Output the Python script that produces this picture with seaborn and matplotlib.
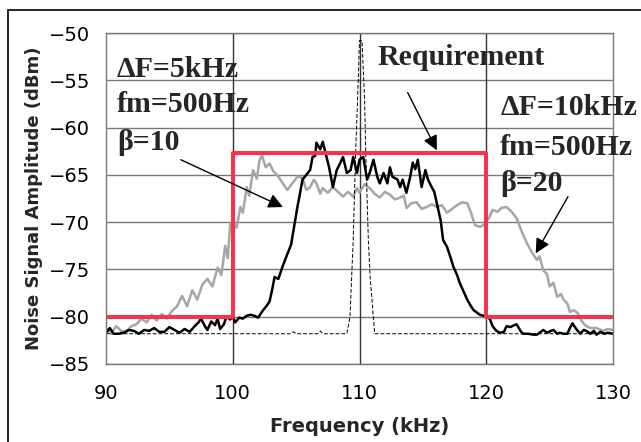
import matplotlib
matplotlib.use("Agg")
import matplotlib.pyplot as plt
import matplotlib.patches as patches
import numpy as np
import seaborn as sns

# ΔF=10kHz, beta=20 (gray trace)
freq_wide = [90.0, 90.4, 90.8, 91.2, 91.6, 92.0, 92.4, 92.8, 93.2, 93.6, 94.0, 94.4, 94.8, 95.2,
             95.6, 96.0, 96.4, 96.8, 97.2, 97.6, 98.0, 98.4, 98.8, 99.1, 99.4, 99.6, 99.8, 100.0,
             100.3, 100.6, 100.8, 101.1, 101.3, 101.6, 101.9, 102.1, 102.3, 102.6, 102.9, 103.2,
             103.6, 104.0, 104.3, 104.7, 105.1, 105.5, 105.8, 106.1, 106.4, 106.6, 106.9, 107.1,
             107.5, 107.9, 108.3, 108.7, 109.1, 109.5, 109.8, 110.0, 110.4, 110.8, 111.2, 111.6,
             112.0, 112.4, 112.8, 113.2, 113.5, 113.7, 114.1, 114.5, 114.9, 115.3, 115.7, 116.1,
             116.5, 116.9, 117.3, 117.7, 118.1, 118.5, 118.8, 119.1, 119.5, 119.8, 120.2, 120.5,
             120.9, 121.2, 121.6, 122.0, 122.4, 122.8, 123.2, 123.6, 124.0, 124.2, 124.5, 124.8,
             125.0, 125.3, 125.6, 125.9, 126.1, 126.4, 126.6, 126.9, 127.2, 127.5, 127.8, 128.2,
             128.7, 129.2, 129.6, 130.0]
amp_wide = [-81.2, -81.8, -81.0, -81.5, -81.6, -81.0, -80.8, -80.2, -80.6, -79.8, -80.4, -79.7, -80.2, -79.4,
            -78.9, -77.8, -78.9, -77.2, -78.2, -76.6, -76.0, -76.8, -74.8, -75.6, -72.5, -73.8, -70.2, -69.8,
            -70.6, -68.4, -69.0, -66.3, -67.2, -64.5, -65.4, -63.5, -62.9, -64.2, -63.8, -64.6,
            -65.2, -66.0, -66.6, -65.9, -65.2, -65.3, -66.6, -66.3, -65.5, -65.9, -67.0, -66.4,
            -66.9, -66.3, -66.8, -67.3, -66.8, -67.3, -66.4, -66.9, -66.0, -66.4, -67.0, -67.4,
            -66.8, -67.1, -67.6, -67.4, -67.2, -68.5, -68.0, -67.9, -68.6, -68.4, -68.1, -68.4,
            -68.2, -69.0, -68.6, -68.2, -67.9, -68.0, -69.0, -70.3, -70.5, -70.3, -69.6, -68.7,
            -68.9, -68.5, -68.4, -68.9, -69.6, -71.0, -72.2, -73.2, -74.0, -73.6, -75.1, -75.5,
            -76.8, -76.4, -77.9, -77.6, -78.2, -78.6, -79.5, -79.3, -79.6, -80.4, -80.9, -81.2,
            -81.2, -81.5, -81.3, -81.4]

# ΔF=5kHz, beta=10 (black trace)
freq_narrow = [90.0, 90.3, 90.6, 91.0, 91.4, 91.8, 92.2, 92.6, 93.0, 93.4, 93.8, 94.2, 94.6, 95.0,
               95.4, 95.8, 96.2, 96.6, 97.0, 97.3, 97.5, 97.8, 98.0, 98.3, 98.6, 98.8, 99.0, 99.3,
               99.5, 99.8, 100.0, 100.2, 100.5, 100.8, 101.1, 101.4, 101.7, 102.0, 102.4, 102.7,
               102.9, 103.1, 103.3, 103.6, 103.9, 104.3, 104.6, 104.9, 105.1, 105.3, 105.5, 105.8,
               106.1, 106.3, 106.5, 106.6, 106.9, 107.1, 107.4, 107.6, 107.9, 108.2, 108.5, 108.7,
               109.0, 109.3, 109.5, 109.8, 110.0, 110.3, 110.6, 110.8, 111.1, 111.4, 111.6, 111.9,
               112.2, 112.4, 112.6, 113.0, 113.2, 113.4, 113.7, 114.0, 114.2, 114.4, 114.6, 114.9,
               115.2, 115.4, 115.7, 115.9, 116.1, 116.4, 116.6, 116.9, 117.2, 117.4, 117.7, 117.9,
               118.2, 118.5, 118.8, 119.0, 119.3, 119.5, 119.8, 120.1, 120.3, 120.5, 120.8, 121.1,
               121.4, 121.6, 121.9, 122.2, 122.4, 122.7, 122.9, 123.3, 123.7, 124.0, 124.3, 124.5,
               124.8, 125.1, 125.3, 125.6, 125.8, 126.1, 126.4, 126.6, 126.8, 127.1, 127.4, 127.7,
               127.9, 128.2, 128.5, 128.7, 129.0, 129.3, 129.6, 130.0]
amp_narrow = [-81.7, -81.2, -81.8, -81.8, -81.7, -81.4, -81.5, -81.8, -81.4, -81.5, -81.2, -81.6, -81.6, -81.1,
              -81.4, -81.7, -81.3, -81.6, -81.0, -80.6, -80.2, -81.0, -81.4, -80.5, -80.9, -80.2, -81.3, -80.8,
              -80.0, -80.3, -80.0, -80.6, -80.1, -80.2, -79.9, -79.8, -79.9, -80.1, -79.3, -78.8,
              -78.4, -77.2, -75.8, -76.0, -74.8, -73.4, -72.4, -70.0, -68.4, -67.0, -65.5, -65.0,
              -64.5, -63.1, -63.0, -61.6, -62.3, -61.5, -63.1, -64.2, -66.3, -64.5, -63.7, -63.1,
              -64.8, -64.5, -63.1, -64.8, -63.4, -63.1, -65.5, -64.8, -63.4, -65.2, -65.9, -64.8,
              -65.9, -64.2, -65.2, -65.5, -66.3, -65.5, -66.9, -65.2, -63.7, -64.4, -63.4, -66.3,
              -64.5, -65.5, -66.3, -66.8, -68.0, -69.8, -71.9, -72.6, -73.8, -74.7, -75.6, -76.4,
              -77.3, -78.2, -78.9, -79.3, -79.6, -79.8, -79.9, -80.0, -80.3, -81.0, -81.5, -81.7,
              -81.6, -81.0, -81.1, -80.9, -80.8, -81.5, -81.8, -81.8, -81.9, -81.9, -81.6, -81.4,
              -81.7, -81.5, -81.4, -81.8, -81.7, -81.8, -81.8, -81.2, -80.7, -81.3, -81.8, -81.4,
              -81.5, -81.8, -81.5, -81.9, -81.6, -81.8, -81.7, -81.8]

# unmodulated carrier (thin dashed)
freq_carrier = [90.0, 104.6, 104.8, 105.0, 106.7, 106.9, 107.1, 109.0, 109.25, 109.5, 109.7, 109.9,
                110.0, 110.2, 110.4, 110.5, 110.7, 110.85, 111.2, 130.0]
amp_carrier = [-81.8, -81.8, -81.6, -81.8, -81.8, -81.5, -81.8, -81.8, -80.0, -72.0, -62.5, -55.0,
               -50.8, -50.8, -57.0, -63.0, -72.0, -76.0, -81.8, -81.8]

# requirement mask
freq_req = [90, 100, 100, 120, 120, 130]
amp_req = [-80, -80, -62.7, -62.7, -80, -80]

x_ticks = [90, 100, 110, 120, 130]
y_ticks = [-85, -80, -75, -70, -65, -60, -55, -50]

sns.set_theme(style="white")
plt.rcParams['font.family'] = ['DejaVu Sans']

fig = plt.figure(figsize=(6.41, 4.42), dpi=100)
ax = fig.add_axes([0.1654, 0.1765, 0.7909, 0.7488])

for y in y_ticks:
    ax.axhline(y, color='#777777', lw=1, zorder=0)
for x in [100, 110, 120]:
    ax.axvline(x, color='#333333', lw=1, zorder=0)

sns.lineplot(x=freq_wide, y=amp_wide, sort=False, estimator=None, color='#a6a6a6', lw=1.8, ax=ax)
sns.lineplot(x=freq_narrow, y=amp_narrow, sort=False, estimator=None, color='black', lw=1.8, ax=ax)
sns.lineplot(x=freq_carrier, y=amp_carrier, sort=False, estimator=None, color='black', lw=0.7,
             linestyle=(0, (4, 2)), ax=ax)
sns.lineplot(x=freq_req, y=amp_req, sort=False, estimator=None, color='#f5334f', lw=2.9, ax=ax)

ax.set_xlim(90, 130)
ax.set_ylim(-85, -50)
ax.set_xticks(x_ticks)
ax.set_yticks(y_ticks)
ax.tick_params(axis='both', direction='out', length=4.3, width=1, labelsize=14,
               color='#777777', labelcolor='black')
ax.tick_params(axis='x', pad=10)
ax.tick_params(axis='y', pad=7)
for s in ax.spines.values():
    s.set_color('#777777')
    s.set_linewidth(1)

ax.set_xlabel('Frequency (kHz)', fontsize=14, fontweight='bold')
ax.set_ylabel('Noise Signal Amplitude (dBm)', fontsize=13, fontweight='bold')
ax.xaxis.set_label_coords(0.5, -0.16)
ax.yaxis.set_label_coords(-0.125, 0.5)

serif = dict(family=['Liberation Serif', 'DejaVu Serif'], fontweight='bold', fontsize=21.5,
             ha='left', va='center')
ax.text(90.87, -53.9, 'ΔF=5kHz', **serif)
ax.text(90.87, -57.6, 'fm=500Hz', **serif)
ax.text(90.87, -61.6, 'β=10', **serif)
ax.text(121.1, -57.9, 'ΔF=10kHz', **serif)
ax.text(121.1, -62.1, 'fm=500Hz', **serif)
ax.text(121.1, -65.9, 'β=20', **serif)
ax.text(111.4, -52.6, 'Requirement', **serif)

arrow = dict(arrowstyle='-|>', color='black', lw=1, mutation_scale=22, shrinkA=0, shrinkB=0)
ax.annotate('', xy=(103.96, -68.4), xytext=(95.9, -63.4), arrowprops=arrow)
ax.annotate('', xy=(116.1, -62.4), xytext=(113.8, -56.3), arrowprops=arrow)
ax.annotate('', xy=(123.9, -73.3), xytext=(126.45, -67.3), arrowprops=arrow)

# frame around the chart (only left and top edges visible)
fig.add_artist(patches.Rectangle((8 / 641, -0.1), 1.2, 1.1 - 10 / 442, transform=fig.transFigure,
                                 fill=False, edgecolor='black', lw=1.2))

fig.savefig('out.png', dpi=100)
